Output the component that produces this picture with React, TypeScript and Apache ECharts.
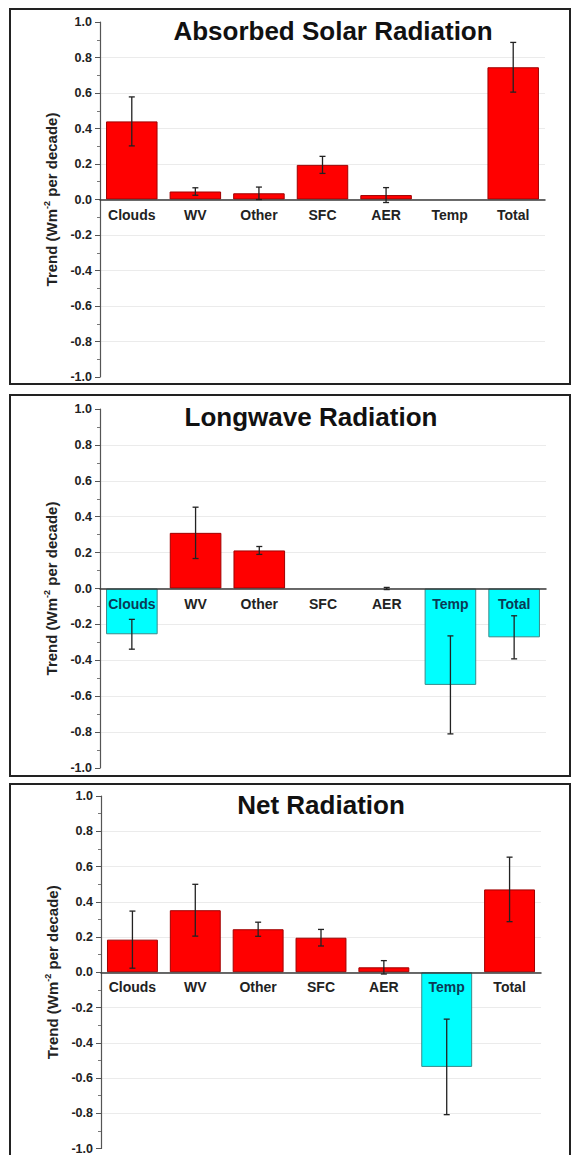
import React, { useEffect, useRef } from "react";
import * as echarts from "echarts";

const categories = ["Clouds", "WV", "Other", "SFC", "AER", "Temp", "Total"];
const titles = ["Absorbed Solar Radiation", "Longwave Radiation", "Net Radiation"];
const yAxisName = "Trend (Wm{sup|-2} per decade)";

const solarValues = [0.44, 0.045, 0.035, 0.195, 0.025, 0, 0.745];
const solarErrors = [0.138, 0.021, 0.035, 0.048, 0.042, null, 0.14];
const longwaveValues = [-0.255, 0.31, 0.212, 0, 0, -0.537, -0.272];
const longwaveErrors = [0.083, 0.143, 0.022, null, 0.006, 0.273, 0.12];
const netValues = [0.185, 0.352, 0.244, 0.196, 0.028, -0.537, 0.47];
const netErrors = [0.162, 0.147, 0.04, 0.047, 0.038, 0.271, 0.183];

const panelValues = [solarValues, longwaveValues, netValues];
const panelErrors = [solarErrors, longwaveErrors, netErrors];

const FONT = "'Liberation Sans', Arial, Helvetica, sans-serif";
const RED = "#ff0000";
const CYAN = "#00ffff";

const grids = [
  { left: 100, width: 445, top: 22, height: 355 },
  { left: 100, width: 446, top: 409, height: 359 },
  { left: 101, width: 440, top: 796, height: 354 },
];
const titlePos = [
  { x: 333, y: 31 },
  { x: 311, y: 417 },
  { x: 321, y: 805 },
];
const boxes = [
  { y: 9, h: 375 },
  { y: 395, h: 381 },
  { y: 784, h: 380 },
];

function buildOption() {
  const xAxis: any[] = [];
  const yAxis: any[] = [];
  const series: any[] = [];
  const graphic: any[] = [];

  panelValues.forEach((vals, p) => {
    xAxis.push({
      type: "category",
      gridIndex: p,
      data: categories,
      z: 5,
      axisLine: { onZero: true, lineStyle: { color: "#3a3a3a", width: 1.5 } },
      axisTick: { alignWithLabel: true, length: 4, lineStyle: { color: "#3a3a3a" } },
      axisLabel: { show: false },
      splitLine: { show: false },
    });
    yAxis.push({
      type: "value",
      gridIndex: p,
      min: -1,
      max: 1,
      interval: 0.2,
      name: yAxisName,
      nameLocation: "middle",
      nameRotate: 90,
      nameGap: 38,
      nameTextStyle: {
        fontFamily: FONT,
        fontSize: 15,
        fontWeight: "bold",
        color: "#222",
        lineHeight: 17,
        rich: {
          sup: { fontFamily: FONT, fontSize: 9, fontWeight: "bold", color: "#222", verticalAlign: "top" },
        },
      },
      axisLine: { show: true, lineStyle: { color: "#555", width: 1.2 } },
      axisTick: { show: true, length: 5, lineStyle: { color: "#555" } },
      minorTick: { show: true, splitNumber: 2, length: 3, lineStyle: { color: "#777" } },
      axisLabel: {
        margin: 8,
        fontFamily: FONT,
        fontSize: 12.5,
        fontWeight: "bold",
        color: "#222",
        formatter: (v: number) => (Math.abs(v) < 1e-9 ? "0.0" : v.toFixed(1)),
      },
      splitLine: { show: true, showMinLine: false, showMaxLine: false, lineStyle: { color: "#ebebeb", width: 1 } },
    });
    series.push({
      type: "bar",
      xAxisIndex: p,
      yAxisIndex: p,
      barCategoryGap: "19%",
      data: vals.map((v) => ({
        value: v,
        itemStyle: {
          color: v < 0 ? CYAN : RED,
          borderColor: v < 0 ? "#3b8a8a" : "#a00000",
          borderWidth: v === 0 ? 0 : 1,
        },
      })),
      z: 2,
    });
    const errData: any[] = [];
    panelErrors[p].forEach((e, i) => {
      if (e === null) return;
      errData.push([i, vals[i] - e, vals[i] + e]);
    });
    series.push({
      type: "custom",
      xAxisIndex: p,
      yAxisIndex: p,
      z: 6,
      encode: { x: 0, y: [1, 2] },
      data: errData,
      renderItem: (params: any, api: any) => {
        const idx = api.value(0);
        const lo = api.coord([idx, api.value(1)]);
        const hi = api.coord([idx, api.value(2)]);
        const hw = 3;
        const st = { stroke: "#222", lineWidth: 1.3 };
        return {
          type: "group",
          children: [
            { type: "line", shape: { x1: hi[0], y1: hi[1], x2: lo[0], y2: lo[1] }, style: st },
            { type: "line", shape: { x1: hi[0] - hw, y1: hi[1], x2: hi[0] + hw, y2: hi[1] }, style: st },
            { type: "line", shape: { x1: lo[0] - hw, y1: lo[1], x2: lo[0] + hw, y2: lo[1] }, style: st },
          ],
        };
      },
    });
    // category labels placed at the zero line
    series.push({
      type: "custom",
      xAxisIndex: p,
      yAxisIndex: p,
      z: 7,
      silent: true,
      encode: { x: 0, y: 1 },
      data: categories.map((_c, i) => [i, 0]),
      renderItem: (params: any, api: any) => {
        const idx = api.value(0);
        const pt = api.coord([idx, 0]);
        return {
          type: "text",
          x: pt[0],
          y: pt[1] + 8,
          style: {
            text: categories[idx],
            fontFamily: FONT,
            fontSize: 14,
            fontWeight: "bold",
            fill: vals[idx] < 0 ? "#0b3a55" : "#222222",
            align: "center",
            verticalAlign: "top",
          },
        };
      },
    });

    graphic.push({
      type: "rect",
      shape: { x: 10, y: boxes[p].y, width: 560, height: boxes[p].h },
      style: { fill: "none", stroke: "#222", lineWidth: 2 },
      z: 100,
      silent: true,
    });
    graphic.push({
      type: "text",
      x: titlePos[p].x,
      y: titlePos[p].y,
      style: {
        text: titles[p],
        fontFamily: FONT,
        fontSize: 26,
        fontWeight: "bold",
        fill: "#111",
        align: "center",
        verticalAlign: "middle",
      },
      z: 100,
    });
  });

  return {
    animation: false,
    backgroundColor: "#ffffff",
    grid: grids.map((g) => ({ ...g, containLabel: false })),
    xAxis,
    yAxis,
    series,
    graphic,
  };
}

export default function App() {
  const ref = useRef<HTMLDivElement>(null);
  useEffect(() => {
    if (!ref.current) return;
    const chart = echarts.init(ref.current, undefined, { renderer: "svg" });
    chart.setOption(buildOption() as any);
    return () => chart.dispose();
  }, []);
  return (
    <div
      ref={ref}
      style={{ position: "absolute", left: 0, top: 0, width: 572, height: 1155, background: "#fff" }}
    />
  );
}
